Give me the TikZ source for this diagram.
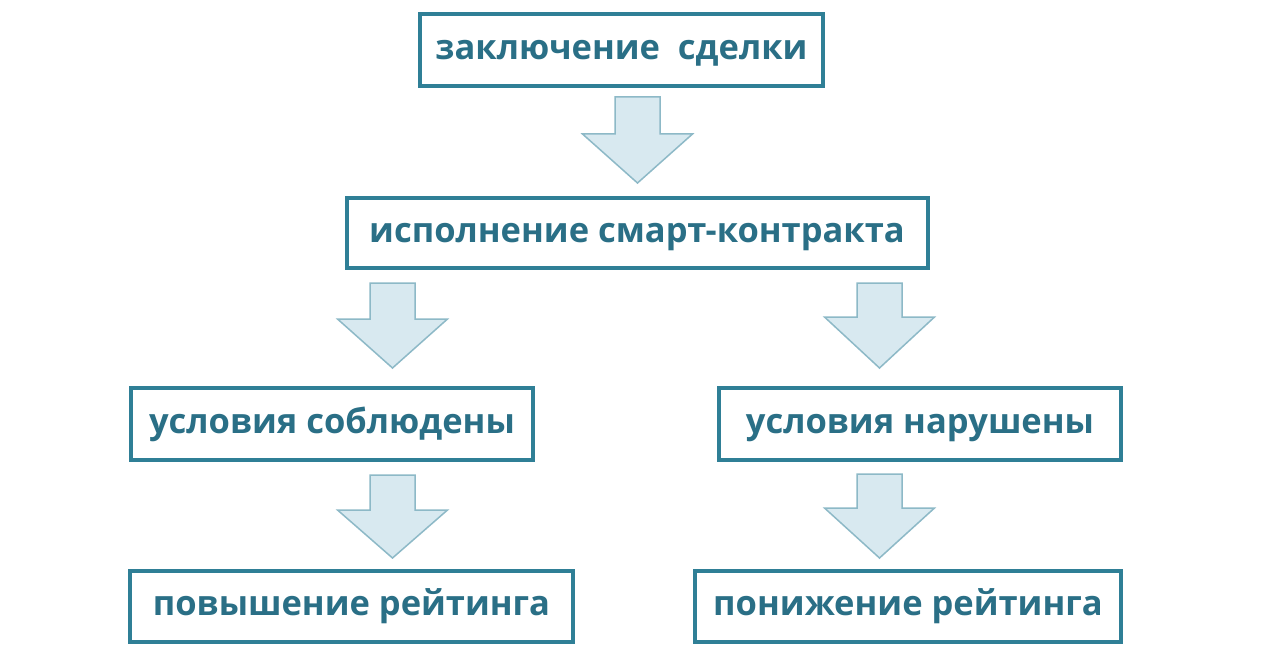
\documentclass[tikz,border=0pt]{standalone}
\usepackage{fontspec}
\setmainfont{Open Sans}
\definecolor{boxline}{HTML}{2F7F96}
\definecolor{boxtext}{HTML}{2A6F86}
\definecolor{arrfill}{HTML}{D8E9F0}
\definecolor{arrline}{HTML}{8DB9C7}
\newcommand\blockarrow[4]{%
  \draw[arrstyle] ({#1-22.5},#2) -- ({#1+22.5},#2) -- ({#1+22.5},#3) -- ({#1+55},#3)
    -- (#1,#4) -- ({#1-55},#3) -- ({#1-22.5},#3) -- cycle;}
\begin{document}
\begin{tikzpicture}[x=1pt,y=-1pt,
  stage/.style={draw=boxline, line width=4pt, fill=white, text=boxtext,
    font=\fontsize{34.5}{40}\selectfont\bfseries, inner sep=0pt, anchor=center,
    text height=18.8pt, text depth=0pt},
  arrstyle/.style={draw=arrline, fill=arrfill, line width=1.5pt, line join=miter}]
\useasboundingbox (0,0) rectangle (1280,658);
\fill[white] (0,0) rectangle (1280,658);
\node[stage, minimum width=403pt, minimum height=72pt] (deal) at (621.5,50) {заключение\ \ сделки};
\node[stage, minimum width=581pt, minimum height=70pt] (exec) at (637,233) {исполнение смарт-контракта};
\node[stage, minimum width=402pt, minimum height=72pt] (ok) at (332,424) {условия соблюдены};
\node[stage, minimum width=402pt, minimum height=72pt] (bad) at (920,424) {условия нарушены};
\node[stage, minimum width=443pt, minimum height=71pt] (up) at (351.5,606.5) {повышение рейтинга};
\node[stage, minimum width=426pt, minimum height=71pt] (down) at (908,606.5) {понижение рейтинга};
\blockarrow{637.5}{97}{134}{183}
\blockarrow{392.5}{283}{319}{368}
\blockarrow{392.5}{475}{510}{558}
\blockarrow{879.5}{283}{317}{368}
\blockarrow{879.5}{474}{508}{558}
\end{tikzpicture}
\end{document}
